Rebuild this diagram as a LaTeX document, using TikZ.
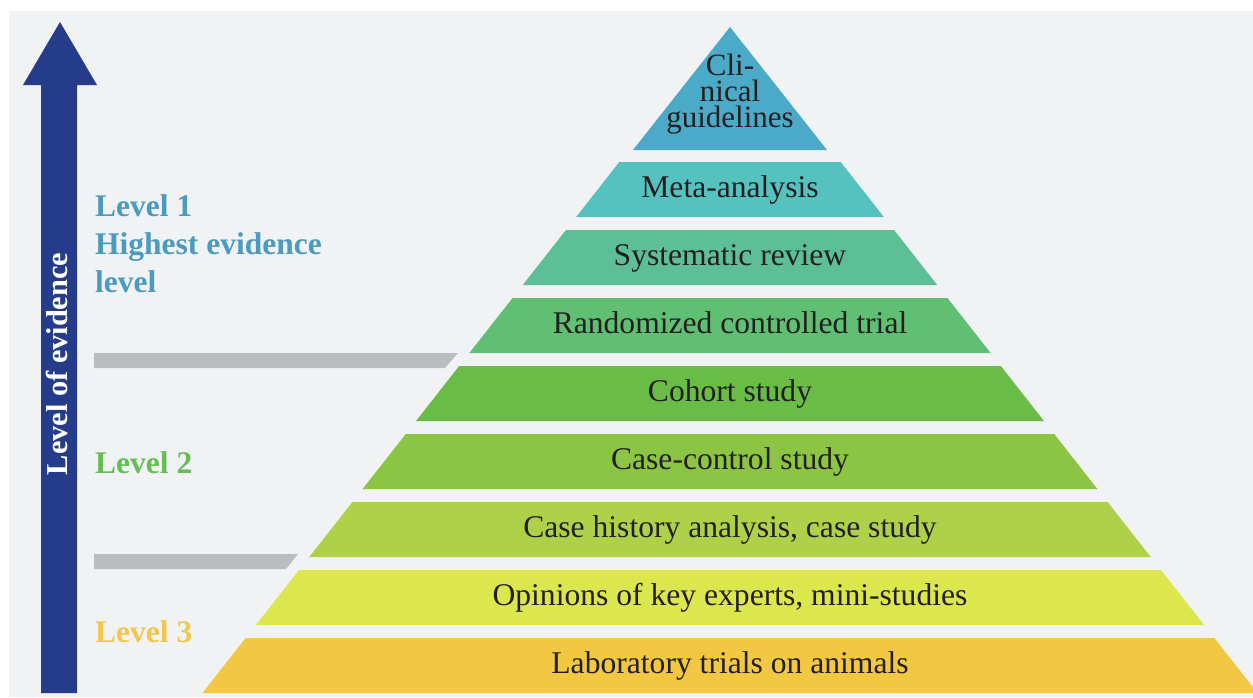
\documentclass[tikz,border=0pt]{standalone}
\usepackage{fontspec}
\setmainfont{Liberation Serif}
\definecolor{bgc}{HTML}{F1F2F4}
\definecolor{arrowc}{HTML}{243C8A}
\definecolor{barc}{HTML}{BBBCBF}
\definecolor{txtc}{HTML}{231F20}
\definecolor{c0}{HTML}{4BAAC8}
\definecolor{c1}{HTML}{56C2BF}
\definecolor{c2}{HTML}{5DBF97}
\definecolor{c3}{HTML}{5FBF73}
\definecolor{c4}{HTML}{69BD47}
\definecolor{c5}{HTML}{8CC443}
\definecolor{c6}{HTML}{AFD14A}
\definecolor{c7}{HTML}{DCE64D}
\definecolor{c8}{HTML}{F2C842}
\definecolor{lvone}{HTML}{4B9AC0}
\definecolor{lvtwo}{HTML}{66BD55}
\definecolor{lvthree}{HTML}{F2C74A}
\tikzset{
  layertext/.style={anchor=base, inner sep=0pt, text=txtc, font=\fontsize{31.6}{31.6}\selectfont},
  leveltext/.style={anchor=base west, inner sep=0pt, font=\bfseries\fontsize{31.5}{38}\selectfont},
}
\newcommand{\pyrlayer}[4]{%
  \pgfmathsetmacro\ytop{#2}%
  \pgfmathsetmacro\ybot{#2+55}%
  \pgfmathsetmacro\hwt{0.785*(#2-21)}%
  \pgfmathsetmacro\hwb{0.785*(#2+55-21)}%
  \fill[#3] ({730-\hwt},\ytop) -- ({730+\hwt},\ytop) -- ({730+\hwb},\ybot) -- ({730-\hwb},\ybot) -- cycle;
  \node[layertext] (#1) at (730,{#2+35}) {#4};
}
\begin{document}
\begin{tikzpicture}[x=1pt,y=-1pt]
\useasboundingbox (0,0) rectangle (1253,697);
\clip (0,0) rectangle (1253,697);
\fill[white] (0,0) rectangle (1253,697);
\fill[bgc] (9,11) rectangle (1253,697);
% arrow
\fill[arrowc] (41,693) -- (41,85) -- (23,85) -- (60,22) -- (97,85) -- (77,85) -- (77,693) -- cycle;
\node[anchor=base, inner sep=0pt, rotate=90, text=white, font=\bfseries\fontsize{30.3}{31}\selectfont] (axis) at (67.5,364) {Level of evidence};
% gray bars
\fill[barc] (94,353) -- (458,353) -- (445,368) -- (94,368) -- cycle;
\fill[barc] (94,554) -- (298,554) -- (286,569) -- (94,569) -- cycle;
% top triangle
\fill[c0] (730,27) -- (827,150) -- (633,150) -- cycle;
\node[anchor=center, inner sep=0pt, align=center, text=txtc, font=\fontsize{31}{26}\selectfont] (guidelines) at (730,94) {Cli-\\nical\\guidelines};
% layers
\pyrlayer{meta}{162}{c1}{Meta-analysis}
\pyrlayer{sysrev}{230}{c2}{Systematic review}
\pyrlayer{rct}{298}{c3}{Randomized controlled trial}
\pyrlayer{cohort}{366}{c4}{Cohort study}
\pyrlayer{casecontrol}{434}{c5}{Case-control study}
\pyrlayer{casehist}{502}{c6}{Case history analysis, case study}
\pyrlayer{opinions}{570}{c7}{Opinions of key experts, mini-studies}
\pyrlayer{lab}{638}{c8}{Laboratory trials on animals}
% level labels
\node[leveltext, text=lvone] (l1a) at (95,216) {Level 1};
\node[leveltext, text=lvone] (l1b) at (95,254) {Highest evidence};
\node[leveltext, text=lvone] (l1c) at (95,292) {level};
\node[leveltext, text=lvtwo] (l2) at (95,473) {Level 2};
\node[leveltext, text=lvthree] (l3) at (95,642) {Level 3};
\end{tikzpicture}
\end{document}
